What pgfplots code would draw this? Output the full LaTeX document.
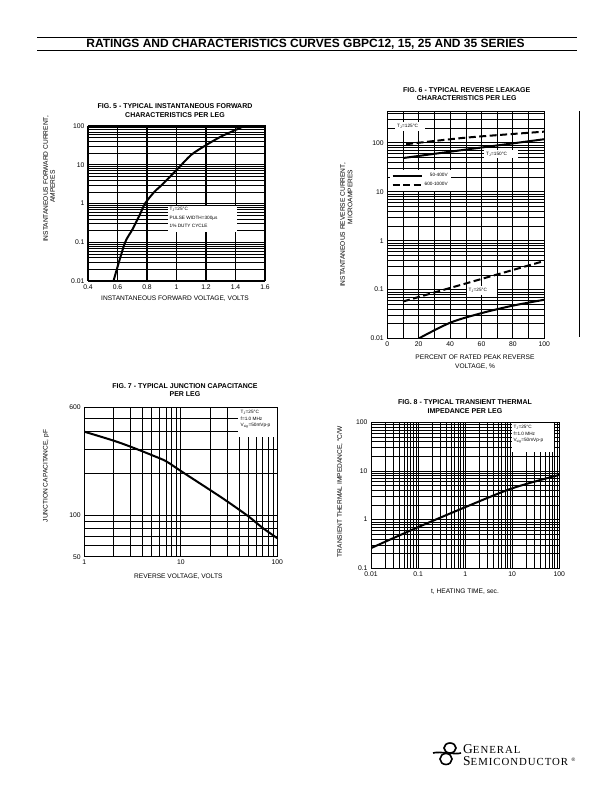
\documentclass[border=0pt]{standalone}
\usepackage{fontspec}
\setmainfont{Liberation Sans}
\newfontfamily\logofont[LetterSpace=9]{Liberation Serif}
\usepackage{pgfplots}
\pgfplotsset{compat=1.18}

\newcommand{\tfont}{\fontsize{7}{8.4}\selectfont\bfseries}
\newcommand{\lfont}{\fontsize{6.6}{9}\selectfont}
\newcommand{\nfont}{\fontsize{4.7}{6.4}\selectfont}

\pgfplotsset{
  sheet/.style={
    scale only axis, anchor=south west,
    axis line style={black, line width=1pt},
    major tick length=0pt, minor tick length=0pt,
    grid=both,
    major grid style={black, line width=0.9pt},
    minor grid style={black, line width=0.6pt},
    tick label style={font=\fontsize{6.8}{7}\selectfont, text=black},
    /pgf/number format/assume math mode=true,
  },
  curve/.style={black, line width=2pt, smooth, no marks},
  dashcurve/.style={curve, dash pattern=on 7pt off 3.5pt},
  longleg/.style={legend image code/.code={\draw[##1] (0pt,0pt) -- (29pt,0pt);}},
}

\begin{document}
\begin{tikzpicture}[x=1pt,y=1pt]
\fill[white] (0,0) rectangle (612,792);
\useasboundingbox (0,0) rectangle (612,792);

% page header
\draw[line width=1pt] (37,754.7) -- (577,754.7);
\draw[line width=1pt] (37,741) -- (577,741);
\node[font=\fontsize{12}{12}\selectfont\bfseries] at (305.5,748) {RATINGS AND CHARACTERISTICS CURVES GBPC12, 15, 25 AND 35 SERIES};

% ---- fig 5 ----
\node[font=\tfont, align=center] at (175,681.5) {FIG. 5 - TYPICAL INSTANTANEOUS FORWARD\\CHARACTERISTICS PER LEG};
\begin{axis}[sheet, at={(88pt,511pt)}, width=177pt, height=155pt,
  xmin=0.4, xmax=1.6, ymode=log, ymin=0.01, ymax=100,
  xtick={0.4,0.6,0.8,1,1.2,1.4,1.6}, xticklabels={0.4,0.6,0.8,1,1.2,1.4,1.6},
  ytick={0.01,0.1,1,10,100}, yticklabels={0.01,0.1,1,10,100},
  minor ytick={0.02,0.03,0.04,0.05,0.06,0.07,0.08,0.09,0.2,0.3,0.4,0.5,0.6,0.7,0.8,0.9,2,3,4,5,6,7,8,9,20,30,40,50,60,70,80,90},
  major grid style={black, line width=1.1pt}]
\addplot[curve] coordinates {
  (0.573,0.01) (0.6,0.023) (0.652,0.1) (0.7,0.21) (0.75,0.5) (0.787,1)
  (0.85,2.0) (0.9,3.0) (1.0,7.3) (1.1,18) (1.2,32) (1.3,53) (1.4,79) (1.46,100)
};
\end{axis}
\fill[white] (168,560) rectangle (237,586);
\node[anchor=north west, font=\fontsize{4.7}{8.3}\selectfont, align=left, inner sep=0pt] at (169.5,584.5)
  {T\textsubscript{J}=25°C\\PULSE WIDTH=300μs\\1\% DUTY CYCLE};
\node[rotate=90, font=\lfont] at (46,613) {INSTANTANEOUS FORWARD CURRENT,};
\node[rotate=90, font=\lfont] at (52.7,605.3) {AMPERES};
\node[font=\lfont] at (175,493.7) {INSTANTANEOUS FORWARD VOLTAGE, VOLTS};

% ---- fig 6 ----
\node[font=\tfont, align=center] at (466.7,697.8) {FIG. 6 - TYPICAL REVERSE LEAKAGE\\CHARACTERISTICS PER LEG};
\begin{axis}[sheet, longleg, at={(387.3pt,453.5pt)}, width=157pt, height=226.8pt,
  xmin=0, xmax=100, ymode=log, ymin=0.01, ymax=435,
  xtick={0,20,40,60,80,100}, xticklabels={0,20,40,60,80,100},
  minor xtick={10,30,50,70,90},
  ytick={0.01,0.1,1,10,100}, yticklabels={0.01,0.1,1,10,100},
  minor ytick={0.02,0.03,0.04,0.05,0.06,0.07,0.08,0.09,0.2,0.3,0.4,0.5,0.6,0.7,0.8,0.9,2,3,4,5,6,7,8,9,20,30,40,50,60,70,80,90,200,300,400},
  legend style={at={(rel axis cs:0.017,0.743)}, anchor=north west, draw=none, fill=white,
    font=\nfont, inner sep=1.5pt, row sep=0pt},
  legend cell align=right]
\addlegendimage{black, line width=2pt}
\addlegendentry{50-400V}
\addlegendimage{black, line width=2pt, dash pattern=on 7pt off 3.5pt}
\addlegendentry{600-1000V}
% 125 C
\addplot[dashcurve] coordinates {(12,94) (50,128) (100,170)};
\addplot[curve] coordinates {(10,49) (50,73) (100,119)};
% 25 C
\addplot[dashcurve] coordinates {(10,0.057) (40,0.108) (70,0.204) (100,0.385)};
\addplot[curve] coordinates {(20,0.01) (40,0.021) (60,0.033) (80,0.047) (100,0.062)};
\end{axis}
\fill[white] (395,661) rectangle (425,670);
\node[anchor=west, font=\nfont, inner sep=0pt] at (397,665.5) {T\textsubscript{J}=125°C};
\fill[white] (484,634) rectangle (518,642);
\node[anchor=west, font=\nfont, inner sep=0pt] at (486,638) {T\textsubscript{J}=150°C};
\fill[white] (466.7,497) rectangle (496.7,506);
\node[anchor=west, font=\nfont, inner sep=0pt] at (468.5,501.5) {T\textsubscript{J}=25°C};
\node[rotate=90, font=\lfont] at (343,567) {INSTANTANEOUS REVERSE CURRENT,};
\node[rotate=90, font=\lfont] at (350,595) {MICROAMPERES};
\node[font=\lfont, align=center] at (475,430) {PERCENT OF RATED PEAK REVERSE\\VOLTAGE, \%};
\draw[line width=1pt] (579,681) -- (579,455);

% ---- fig 7 ----
\node[font=\tfont, align=center] at (185,402) {FIG. 7 - TYPICAL JUNCTION CAPACITANCE\\PER LEG};
\begin{axis}[sheet, at={(84.3pt,235.3pt)}, width=193pt, height=149.4pt,
  xmode=log, ymode=log, xmin=1, xmax=100, ymin=50, ymax=600,
  xtick={1,10,100}, xticklabels={1,10,100},
  minor xtick={2,3,4,5,6,7,8,9,20,30,40,50,60,70,80,90},
  ytick={50,100,600}, yticklabels={50,100,600},
  minor ytick={60,70,80,90,200,300,400,500}]
\addplot[curve] coordinates {
  (1,400) (2,345) (3,312) (5,271) (7,245) (10,208) (20,152) (30,126) (50,98) (70,81) (100,68)
};
\end{axis}
\fill[white] (238,355) rectangle (277,384);
\node[anchor=north west, font=\nfont, align=left, inner sep=0pt] at (240.5,381.5)
  {T\textsubscript{J}=25°C\\f=1.0 MHz\\V\textsubscript{sig}=50mVp-p};
\node[rotate=90, font=\lfont] at (46,316) {JUNCTION CAPACITANCE, pF};
\node[font=\lfont] at (178.3,215.3) {REVERSE VOLTAGE, VOLTS};

% ---- fig 8 ----
\node[font=\tfont, align=center] at (465,385.5) {FIG. 8 - TYPICAL TRANSIENT THERMAL\\IMPEDANCE PER LEG};
\begin{axis}[sheet, at={(371pt,223.7pt)}, width=188.3pt, height=146pt,
  xmode=log, ymode=log, xmin=0.01, xmax=100, ymin=0.1, ymax=100,
  xtick={0.01,0.1,1,10,100}, xticklabels={0.01,0.1,1,10,100},
  minor xtick={0.02,0.03,0.04,0.05,0.06,0.07,0.08,0.09,0.2,0.3,0.4,0.5,0.6,0.7,0.8,0.9,2,3,4,5,6,7,8,9,20,30,40,50,60,70,80,90},
  ytick={0.1,1,10,100}, yticklabels={0.1,1,10,100},
  minor ytick={0.2,0.3,0.4,0.5,0.6,0.7,0.8,0.9,2,3,4,5,6,7,8,9,20,30,40,50,60,70,80,90}]
\addplot[curve] coordinates {(0.01,0.26) (0.1,0.7) (1,1.8) (10,4.4) (100,8.3)};
\end{axis}
\fill[white] (511.7,340.3) rectangle (554,369);
\node[anchor=north west, font=\nfont, align=left, inner sep=0pt] at (513.3,366.5)
  {T\textsubscript{J}=25°C\\f=1.0 MHz\\V\textsubscript{sig}=50mVp-p};
\node[rotate=90, font=\lfont] at (340,300.3) {TRANSIENT THERMAL IMPEDANCE, °C/W};
\node[font=\lfont] at (465,200.3) {t, HEATING TIME, sec.};

% ---- logo ----
\begin{scope}[line width=1.6pt]
\draw (450,44) ellipse [x radius=6, y radius=5];
\draw (446,33) ellipse [x radius=6, y radius=5.5];
\draw (433,39) .. controls (440,41) and (455,37) .. (461,39);
\end{scope}
\node[anchor=base west, inner sep=0pt, font=\logofont\fontsize{13.5}{14}\selectfont] at (463,38.7)
  {G{\fontsize{10.8}{12}\selectfont ENERAL}};
\node[anchor=base west, inner sep=0pt, font=\logofont\fontsize{13.5}{14}\selectfont] at (463,26.3)
  {S{\fontsize{10.8}{12}\selectfont EMICONDUCTOR}};
\node[font=\fontsize{5}{5}\selectfont, inner sep=0pt] at (573.5,32) {®};
\end{tikzpicture}
\end{document}
